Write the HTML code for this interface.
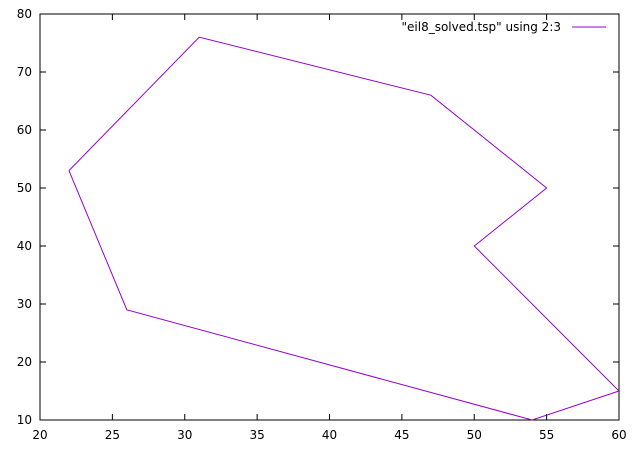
<!DOCTYPE html>
<html><head><meta charset="utf-8"><style>
body{margin:0;background:#fff}
svg text{font-family:"DejaVu Sans","Liberation Sans",sans-serif;font-size:12px;fill:#000}
</style></head><body>
<svg id="chart" width="640" height="448" viewBox="0 0 640 448" xmlns="http://www.w3.org/2000/svg">
<g id="axes"></g>
<g id="plot"></g>
<g>
<text x="561" y="31" text-anchor="end">"eil8_solved.tsp" using 2:3</text>
<line x1="572" y1="27" x2="606" y2="27" stroke="#9400d3" stroke-width="1"/>
</g>
</svg>
<script>
const xs=[22,31,47,55,50,60,54,26,22];
const ys=[53,76,66,50,40,15,10,29,53];
const xTicks=[20,25,30,35,40,45,50,55,60];
const yTicks=[10,20,30,40,50,60,70,80];
const L=40,R=619,T=14,B=420;
const sx=v=>L+(v-20)/(60-20)*(R-L);
const sy=v=>B-(v-10)/(80-10)*(B-T);
const NS="http://www.w3.org/2000/svg";
const axes=document.getElementById('axes'),plot=document.getElementById('plot');
function mk(tag,attrs,parent){const e=document.createElementNS(NS,tag);for(const k in attrs)e.setAttribute(k,attrs[k]);parent.appendChild(e);return e;}
const frame=mk('rect',{x:L,y:T,width:R-L,height:B-T,fill:'none',stroke:'#000','stroke-width':1},axes);


xTicks.forEach(v=>{const x=sx(v);
const t1=mk('line',{x1:x,y1:B,x2:x,y2:B-6,stroke:'#000'},axes);


const t2=mk('line',{x1:x,y1:T,x2:x,y2:T+6,stroke:'#000'},axes);


const tx=mk('text',{x:x,y:B+19,'text-anchor':'middle'},axes);tx.textContent=v;

});
yTicks.forEach(v=>{const y=sy(v);
const t1=mk('line',{x1:L,y1:y,x2:L+6,y2:y,stroke:'#000'},axes);


const t2=mk('line',{x1:R,y1:y,x2:R-6,y2:y,stroke:'#000'},axes);


const tx=mk('text',{x:L-8,y:y+4,'text-anchor':'end'},axes);tx.textContent=v;

});
const pts=xs.map((x,i)=>sx(x)+','+sy(ys[i])).join(' ');
const line=mk('polyline',{points:pts,fill:'none',stroke:'#9400d3','stroke-width':1},plot);


</script>
</body></html>
